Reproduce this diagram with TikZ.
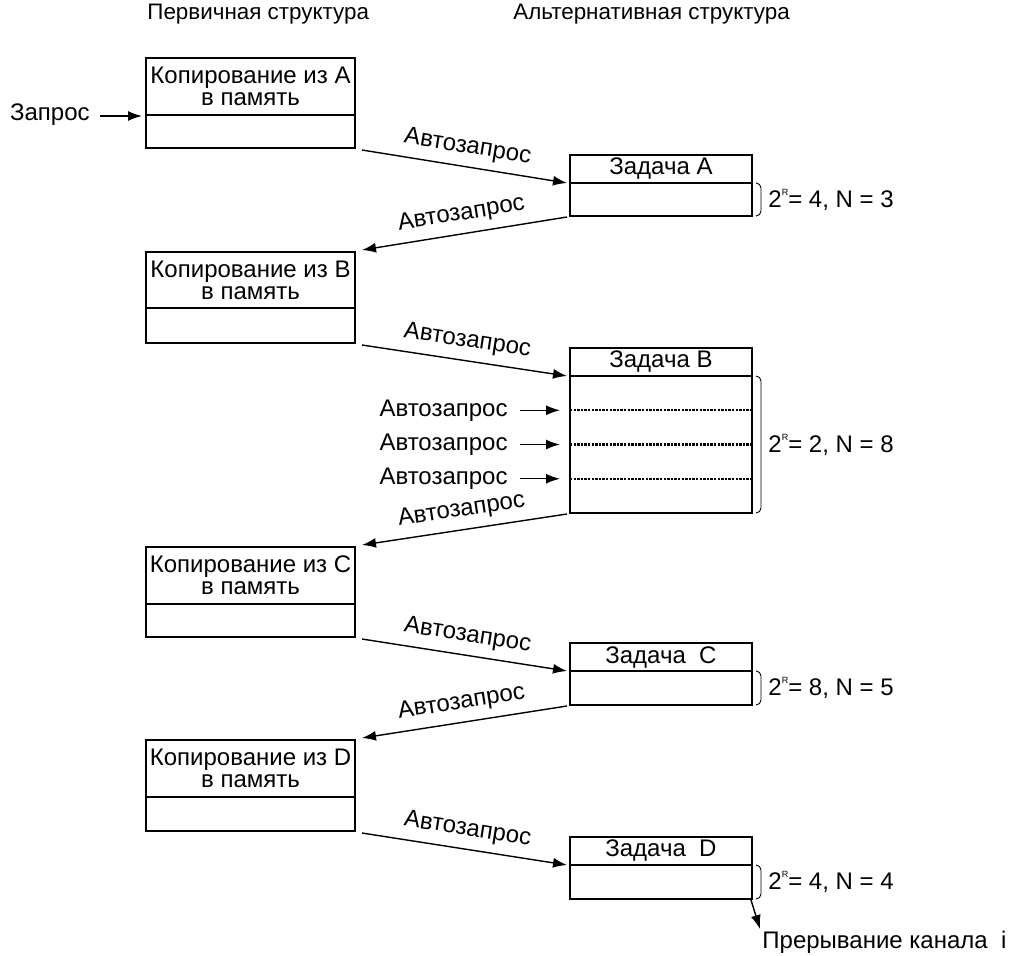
\documentclass[tikz,border=0pt]{standalone}
\usepackage{fontspec}
\setmainfont{Liberation Sans}
\usetikzlibrary{arrows.meta,calc}
\newcommand\myR{\raisebox{6pt}{\fontsize{4.5}{5}\selectfont R}}
\begin{document}
\begin{tikzpicture}[x=0.5pt,y=-0.5pt,
  every node/.style={font=\fontsize{12}{11}\selectfont, inner sep=0pt},
  hdr/.style={font=\fontsize{11.2}{12}\selectfont},
  cell/.style={draw, line width=0.9pt, outer sep=0pt, anchor=north west, align=center},
  lcell/.style={cell, minimum width=104.5pt},
  tcell/.style={cell, minimum width=91pt},
  arr/.style={-{Latex[length=7pt,width=5pt]}, line width=0.7pt},
  auto lbl/.style={sloped, above=4pt},
  br/.style={line width=0.45pt},
  dotline/.style={line width=1.2pt, dash pattern=on 1.2pt off 0.6pt},
]
\useasboundingbox (0,0) rectangle (1019,955);

% headers
\node[hdr, anchor=west] (h1) at (147,14) {Первичная структура};
\node[hdr, anchor=west] (h2) at (513,14) {Альтернативная структура};

% primary structure boxes
\node[lcell, minimum height=28.5pt] (LAt) at (146,58) {Копирование из A\\в память};
\node[lcell, minimum height=16.5pt] (LAb) at (LAt.south west) {};
\node[lcell, minimum height=28pt] (LBt) at (146,252) {Копирование из B\\в память};
\node[lcell, minimum height=17.5pt] (LBb) at (LBt.south west) {};
\node[lcell, minimum height=28.5pt] (LCt) at (146,547) {Копирование из C\\в память};
\node[lcell, minimum height=16.5pt] (LCb) at (LCt.south west) {};
\node[lcell, minimum height=28.5pt] (LDt) at (146,740) {Копирование из D\\в память};
\node[lcell, minimum height=17pt] (LDb) at (LDt.south west) {};

% alternative structure boxes
\node[tcell, minimum height=14pt] (TAt) at (570,155) {Задача A};
\node[tcell, minimum height=16.5pt] (TAb) at (TAt.south west) {};
\node[tcell, minimum height=14pt] (TBt) at (570,348) {Задача B};
\node[tcell, minimum height=68.5pt] (TBb) at (TBt.south west) {};
\node[tcell, minimum height=14pt] (TCt) at (570,643) {Задача~ C};
\node[tcell, minimum height=17pt] (TCb) at (TCt.south west) {};
\node[tcell, minimum height=14pt] (TDt) at (570,837) {Задача~ D};
\node[tcell, minimum height=17pt] (TDb) at (TDt.south west) {};

% request
\node[anchor=east] (zap) at ($(LAt.south west)+(-56,0)$) {Запрос};
\draw[arr] ($(zap.east)+(10,1)$) -- ($(LAt.south west)+(-4,1)$);

% auto-request arrows between columns
\draw[arr] ($(LAb.south east)+(7,2)$) -- node[auto lbl] {Автозапрос} ($(TAt.south west)+(-3,0)$);
\draw[arr] ($(TAb.south west)+(-3,1)$) -- node[auto lbl] {Автозапрос} ($(LBt.north east)+(7,-2)$);
\draw[arr] ($(LBb.south east)+(7,2)$) -- node[auto lbl] {Автозапрос} ($(TBt.south west)+(-3,0)$);
\draw[arr] ($(TBb.south west)+(-3,1)$) -- node[auto lbl] {Автозапрос} ($(LCt.north east)+(7,-2)$);
\draw[arr] ($(LCb.south east)+(7,2)$) -- node[auto lbl] {Автозапрос} ($(TCt.south west)+(-3,0)$);
\draw[arr] ($(TCb.south west)+(-3,1)$) -- node[auto lbl] {Автозапрос} ($(LDt.north east)+(7,-2)$);
\draw[arr] ($(LDb.south east)+(7,2)$) -- node[auto lbl] {Автозапрос} ($(TDt.south west)+(-3,0)$);

% task B inner rows
\foreach \i/\f in {1/0.25,2/0.5,3/0.75}{
  \coordinate (r\i) at ($(TBb.north west)!\f!(TBb.south west)$);
  \draw[dotline] (r\i) -- ($(TBb.north east)!\f!(TBb.south east)$);
  \node[anchor=east] (q\i) at ($(r\i)+(-62,0)$) {Автозапрос};
  \draw[arr] ($(q\i.east)+(12,0)$) -- ($(r\i)+(-10,0)$);
}

% braces and labels
\foreach \b/\t in {TAb/{2\myR= 4, N = 3},TBb/{2\myR= 2, N = 8},TCb/{2\myR= 8, N = 5},TDb/{2\myR= 4, N = 4}}{
  \draw[br] ($(\b.north east)+(4,0)$) to[out=0,in=90] ($(\b.north east)+(9,5)$)
     -- ($(\b.south east)+(9,-5)$) to[out=-90,in=0] ($(\b.south east)+(4,0)$);
  \node[anchor=west] (lab\b) at ($(\b.east)+(16,0)$) {\t};
}

% interrupt
\node[anchor=north west] (intr) at (762,931) {Прерывание канала~ i};
\draw[arr] ($(TDb.south east)+(-1,1)$) -- ($(intr.north west)+(-2,-2)$);
\end{tikzpicture}
\end{document}
